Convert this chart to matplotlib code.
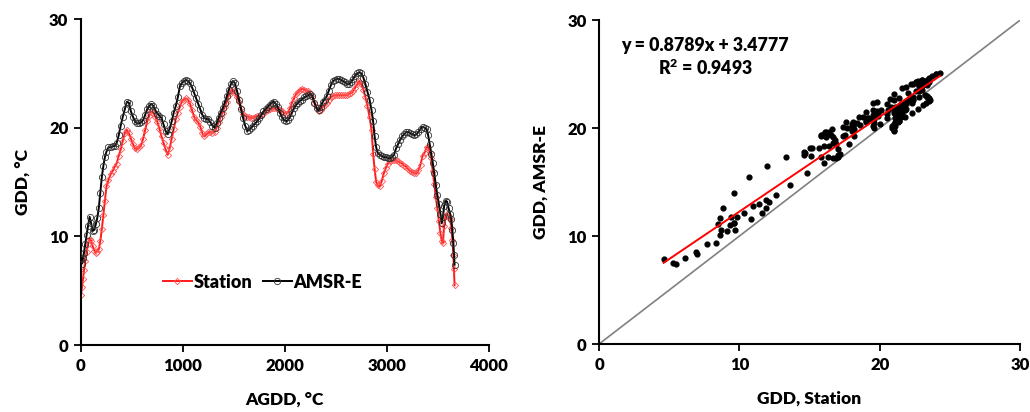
import numpy as np
import matplotlib
matplotlib.use("Agg")
import matplotlib.pyplot as plt

plt.rcParams['font.family'] = ['Lato', 'DejaVu Sans']
plt.rcParams['font.weight'] = 'heavy'
plt.rcParams['mathtext.default'] = 'regular'
W = 'heavy'

# AGDD (station), roughly daily samples
agdd = [0, 10, 20, 30, 42, 55, 70, 85, 100, 115, 130, 145, 160, 175, 190, 205, 220, 235, 250,
        270, 290, 310, 330, 350, 370, 390, 410, 430, 450, 470, 490, 510, 530, 550, 570, 590,
        610, 630, 650, 670, 690, 710, 730, 750, 770, 790, 810, 830, 850, 870, 890, 910, 930,
        950, 970, 990, 1010, 1030, 1050, 1070, 1090, 1110, 1130, 1150, 1170, 1190, 1210, 1230,
        1250, 1270, 1290, 1310, 1330, 1350, 1370, 1390, 1410, 1430, 1450, 1470, 1490, 1510,
        1530, 1550, 1570, 1590, 1610, 1630, 1650, 1670, 1690, 1710, 1730, 1750, 1770, 1790,
        1810, 1830, 1850, 1870, 1890, 1910, 1930, 1950, 1970, 1990, 2010, 2030, 2050, 2070,
        2090, 2110, 2130, 2150, 2170, 2190, 2210, 2230, 2250, 2270, 2290, 2310, 2330, 2350,
        2370, 2390, 2410, 2430, 2450, 2470, 2490, 2510, 2530, 2550, 2570, 2590, 2610, 2630,
        2650, 2670, 2690, 2710, 2730, 2750, 2770, 2790, 2810, 2830, 2850, 2865, 2880, 2895,
        2910, 2930, 2950, 2970, 2990, 3010, 3030, 3050, 3070, 3090, 3110, 3130, 3150, 3170,
        3190, 3210, 3230, 3250, 3270, 3290, 3310, 3330, 3350, 3370, 3390, 3405, 3420, 3435,
        3450, 3465, 3480, 3495, 3510, 3525, 3538, 3550, 3562, 3575, 3590, 3605, 3620, 3632,
        3642, 3652, 3658, 3664]

gdd_station = [4.6, 5.3, 6.1, 6.9, 7.7, 8.6, 9.3, 9.8, 9.6, 9.1, 8.7, 8.5, 8.6, 8.8, 9.6, 10.7, 12.0, 13.3, 14.6,
               15.2, 15.7, 16.0, 16.4, 16.7, 17.4, 18.0, 18.8, 19.5, 19.8, 19.5, 19.0, 18.5, 18.1, 18.0, 18.2, 18.4,
               19.0, 19.8, 20.6, 21.1, 21.5, 21.4, 21.0, 20.5, 19.9, 19.2, 18.6, 18.0, 17.5, 18.1, 19.0, 19.9, 20.8,
               21.4, 21.9, 22.4, 22.6, 22.7, 22.6, 22.2, 21.6, 21.0, 20.7, 20.5, 20.1, 19.5, 19.2, 19.4,
               19.6, 19.6, 19.5, 19.6, 20.0, 20.5, 21.0, 21.4, 21.9, 22.4, 23.0, 23.4, 23.5, 23.2,
               22.8, 22.4, 21.8, 21.3, 21.1, 21.0, 21.0, 20.9, 20.9, 21.0, 21.1, 21.1, 21.2, 21.3,
               21.5, 21.6, 21.7, 21.8, 21.8, 21.8, 21.7, 21.6, 21.5, 21.4, 21.3, 21.4, 21.8, 22.3,
               22.7, 23.1, 23.3, 23.5, 23.6, 23.5, 23.4, 23.4, 23.2, 22.8, 22.3, 21.9, 21.5, 21.6,
               21.9, 22.1, 22.3, 22.6, 22.8, 22.9, 23.0, 23.0, 23.0, 23.0, 23.0, 23.0, 23.0, 23.1,
               23.2, 23.4, 23.7, 24.0, 24.3, 24.0, 23.5, 22.8, 22.0, 21.0, 19.8, 17.6, 16.2, 15.0,
               14.7, 14.6, 15.1, 15.8, 16.3, 16.7, 16.9, 17.0, 17.0, 17.0, 16.9, 16.8, 16.7, 16.5,
               16.4, 16.2, 16.0, 15.9, 15.8, 15.8, 16.1, 16.6, 17.4, 17.7, 18.2, 18.2, 17.8, 17.2,
               16.0, 14.8, 13.6, 12.6, 11.4, 10.3, 9.6, 9.4, 11.0, 11.9, 12.1, 11.9, 11.6, 10.8,
               9.7, 8.3, 7.0, 5.5]

gdd_amsr = [7.9, 7.5, 8.0, 8.5, 9.3, 10.1, 11.0, 11.8, 11.2, 10.5, 10.6, 11.1, 11.7, 12.6, 14.0, 15.5, 16.5, 17.3, 17.8,
            18.2, 18.2, 18.3, 18.3, 18.6, 19.3, 20.2, 21.0, 21.7, 22.4, 22.3, 21.5, 21.0, 20.6, 20.4, 20.4, 20.5,
            20.7, 21.2, 21.7, 22.0, 22.2, 22.0, 21.6, 21.3, 21.1, 20.9, 20.3, 19.7, 19.4, 19.9, 20.6, 21.4, 22.0,
            22.8, 23.8, 24.1, 24.3, 24.4, 24.3, 24.1, 23.7, 23.2, 22.7, 22.2, 21.7, 21.2, 20.9, 20.8,
            20.8, 20.5, 20.2, 20.0, 20.4, 20.9, 21.4, 21.8, 22.3, 22.9, 23.5, 24.0, 24.3, 24.1,
            23.4, 22.6, 21.7, 20.9, 20.2, 19.7, 19.8, 20.0, 20.2, 20.4, 20.6, 20.9, 21.2, 21.5,
            21.7, 21.9, 22.1, 22.3, 22.4, 22.2, 21.9, 21.4, 21.0, 20.7, 20.6, 20.7, 21.0, 21.4,
            21.8, 22.1, 22.3, 22.5, 22.6, 22.8, 22.9, 23.0, 23.1, 22.9, 22.3, 21.8, 21.6, 21.9,
            22.4, 22.6, 22.9, 23.4, 23.9, 24.3, 24.4, 24.5, 24.5, 24.4, 24.3, 24.2, 24.0, 24.0,
            24.2, 24.5, 24.8, 25.0, 25.1, 25.0, 24.6, 24.0, 23.3, 22.6, 21.6, 20.6, 19.2, 18.2,
            17.7, 17.5, 17.4, 17.3, 17.3, 17.2, 17.2, 17.3, 17.5, 18.1, 18.5, 18.9, 19.2, 19.4,
            19.6, 19.6, 19.5, 19.4, 19.3, 19.4, 19.6, 19.9, 20.1, 20.0, 19.9, 19.3, 18.5, 17.6,
            16.8, 15.8, 14.7, 13.8, 13.0, 12.1, 11.2, 11.8, 12.8, 13.3, 13.2, 12.6, 12.1, 11.6,
            10.6, 9.4, 8.3, 7.4]

slope, intercept, r2 = 0.8789, 3.4777, 0.9493

fig = plt.figure(figsize=(10.3, 4.12), dpi=100)
ax1 = fig.add_axes([0.0786, 0.1626, 0.396, 0.791])
ax2 = fig.add_axes([0.5816, 0.165, 0.4087, 0.786])

# left: time series against AGDD
ax1.plot(agdd, gdd_station, color='#ff1a1a', lw=1.4, marker='D', ms=3.2, mfc='none',
         mec='#ff5555', mew=0.6, label='Station', zorder=2)
ax1.plot(agdd, gdd_amsr, color='black', lw=1.4, marker='o', ms=4.5, mfc='none',
         mec='#333333', mew=0.6, label='AMSR-E', zorder=3)
ax1.set_xlim(0, 4000)
ax1.set_ylim(0, 30)
ax1.set_xticks([0, 1000, 2000, 3000, 4000])
ax1.set_yticks([0, 10, 20, 30])
ax1.set_xlabel('AGDD, °C', fontsize=12.5, fontweight=W, labelpad=13)
ax1.set_ylabel('GDD, °C', fontsize=12.5, fontweight=W, labelpad=13)
ax1.legend(loc='center', bbox_to_anchor=(0.445, 0.193), ncol=2, frameon=False,
           handlelength=1.6, handletextpad=0.1, columnspacing=0.6,
           prop={'weight': W, 'size': 13})

# right: scatter with fit and 1:1 line
ax2.plot([0, 30], [0, 30], color='#808080', lw=1.2, zorder=1)
ax2.scatter(gdd_station, gdd_amsr, s=12, color='black', zorder=2)
xf = np.array([min(gdd_station), max(gdd_station)])
ax2.plot(xf, slope * xf + intercept, color='#ff0000', lw=1.4, zorder=3)
ax2.text(7.55, 27.7, 'y = %.4fx + %.4f' % (slope, intercept), ha='center', va='center',
         fontsize=12.8, fontweight=W)
ax2.text(7.55, 25.6, 'R$^2$ = %.4f' % r2, ha='center', va='center',
         fontsize=12.8, fontweight=W)
ax2.set_xlim(0, 30)
ax2.set_ylim(0, 30)
ax2.set_xticks([0, 10, 20, 30])
ax2.set_yticks([0, 10, 20, 30])
ax2.set_xlabel('GDD, Station', fontsize=12.5, fontweight=W, labelpad=13)
ax2.set_ylabel('GDD, AMSR-E', fontsize=12.5, fontweight=W, labelpad=13)

for ax in (ax1, ax2):
    ax.spines['top'].set_visible(False)
    ax.spines['right'].set_visible(False)
    ax.spines['left'].set_linewidth(1.5)
    ax.spines['bottom'].set_linewidth(1.5)
    ax.tick_params(direction='out', length=5, width=1.3, labelsize=12, pad=4)
    for lab in ax.get_xticklabels() + ax.get_yticklabels():
        lab.set_fontweight(W)

fig.savefig('out.png', dpi=100)
